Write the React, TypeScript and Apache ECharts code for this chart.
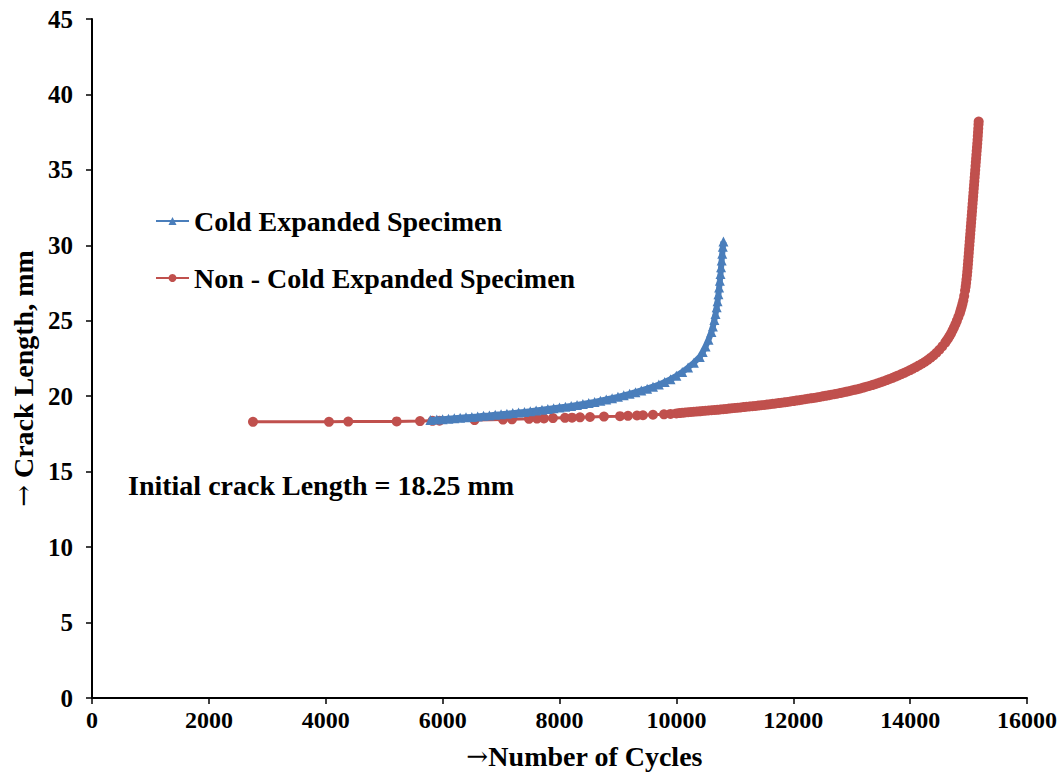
import React, { useEffect, useRef } from "react";
import * as echarts from "echarts";

const xTicks = [0, 2000, 4000, 6000, 8000, 10000, 12000, 14000, 16000];
const yTicks = [0, 5, 10, 15, 20, 25, 30, 35, 40, 45];

const coldCycles = [
  5790, 5900, 6000, 6100, 6200, 6300, 6400, 6500, 6600, 6700, 6800, 6900, 7000, 7100, 7200, 7300, 7400, 7500,
  7600, 7700, 7800, 7900, 8000, 8100, 8200, 8300, 8400, 8500, 8600, 8700, 8800, 8900, 9000, 9100, 9200, 9300,
  9400, 9500, 9600, 9700, 9800, 9900, 10000, 10100, 10200, 10300, 10400, 10450, 10500, 10550, 10600, 10625,
  10650, 10670, 10690, 10705, 10720, 10732, 10744, 10755, 10765, 10775, 10785, 10795, 10805,
];
const coldLength = [
  18.42, 18.45, 18.48, 18.51, 18.54, 18.57, 18.6, 18.63, 18.66, 18.7, 18.73, 18.77, 18.8, 18.84, 18.88, 18.92,
  18.96, 19.0, 19.05, 19.1, 19.15, 19.2, 19.25, 19.3, 19.36, 19.42, 19.48, 19.55, 19.62, 19.7, 19.78, 19.87,
  19.96, 20.06, 20.16, 20.27, 20.38, 20.5, 20.63, 20.77, 20.95, 21.13, 21.35, 21.6, 21.9, 22.22, 22.6, 22.93,
  23.3, 23.75, 24.25, 24.62, 25.05, 25.45, 25.9, 26.3, 26.75, 27.2, 27.65, 28.1, 28.55, 29.0, 29.45, 29.9, 30.25,
];

const nonCycles = [
  2755, 4055, 4385, 5214, 5613, 5827, 5947, 6546, 7033, 7187, 7478, 7615, 7734, 7888, 8094, 8214, 8351, 8522,
  8761, 9035, 9172, 9326, 9428, 9600, 9788, 9900,
  10000, 10050, 10100, 10150, 10200, 10250, 10300, 10350, 10400, 10450, 10500, 10550, 10600, 10650, 10700,
  10750, 10800, 10850, 10900, 10950, 11000, 11050, 11100, 11150, 11200, 11250, 11300, 11350, 11400, 11450,
  11500, 11550, 11600, 11650, 11700, 11750, 11800, 11850, 11900, 11950, 12000, 12050, 12100, 12150, 12200,
  12250, 12300, 12350, 12400, 12450, 12500, 12550, 12600, 12650, 12700, 12750, 12800, 12850, 12900, 12950,
  13000, 13050, 13100, 13150, 13200, 13250, 13300, 13350, 13400, 13450, 13500, 13550, 13600, 13650, 13700,
  13750, 13800, 13850, 13900, 13950, 14000, 14050, 14100, 14150, 14200, 14250, 14300, 14350, 14400, 14450,
  14500, 14550, 14600, 14625, 14650, 14675, 14700, 14725, 14750, 14775, 14800, 14825, 14850, 14865, 14880,
  14895, 14910, 14925, 14940, 14950, 14958, 14965, 14972, 14978, 14984, 14989, 14994, 14999, 15004, 15009,
  15014, 15019, 15024, 15029, 15034, 15039, 15044, 15049, 15054, 15059, 15064, 15069, 15074, 15079, 15084,
  15089, 15094, 15099, 15104, 15109, 15114, 15119, 15124, 15129, 15134, 15139, 15144, 15149, 15154, 15158,
  15162, 15166, 15170, 15173,
];
const nonLength = [
  18.3, 18.3, 18.32, 18.33, 18.35, 18.37, 18.38, 18.42, 18.45, 18.47, 18.5, 18.52, 18.53, 18.55, 18.57, 18.58,
  18.6, 18.62, 18.65, 18.68, 18.7, 18.72, 18.74, 18.77, 18.8, 18.83,
  18.86, 18.88, 18.9, 18.92, 18.94, 18.955, 18.97, 18.985, 19.0, 19.02, 19.04, 19.055, 19.07, 19.085, 19.1,
  19.12, 19.14, 19.16, 19.18, 19.2, 19.22, 19.24, 19.26, 19.28, 19.3, 19.32, 19.34, 19.36, 19.38, 19.4,
  19.42, 19.445, 19.47, 19.495, 19.52, 19.545, 19.57, 19.595, 19.62, 19.65, 19.68, 19.71, 19.74, 19.77, 19.8,
  19.83, 19.86, 19.89, 19.92, 19.955, 19.99, 20.025, 20.06, 20.095, 20.13, 20.17, 20.21, 20.25, 20.29, 20.335,
  20.38, 20.425, 20.47, 20.52, 20.57, 20.625, 20.68, 20.74, 20.8, 20.865, 20.93, 21.0, 21.07, 21.145, 21.22,
  21.3, 21.38, 21.465, 21.55, 21.64, 21.73, 21.83, 21.93, 22.04, 22.15, 22.27, 22.4, 22.55, 22.7, 22.88,
  23.08, 23.3, 23.55, 23.69, 23.83, 23.99, 24.15, 24.35, 24.55, 24.77, 25.0, 25.25, 25.5, 25.7, 25.9,
  26.12, 26.35, 26.65, 27.0, 27.25, 27.5, 27.75, 28.0, 28.25, 28.5, 28.75, 29.0, 29.25, 29.5, 29.75,
  30.0, 30.25, 30.5, 30.75, 31.0, 31.25, 31.5, 31.75, 32.0, 32.25, 32.5, 32.75, 33.0, 33.25, 33.5,
  33.75, 34.0, 34.25, 34.5, 34.75, 35.0, 35.25, 35.5, 35.75, 36.0, 36.25, 36.5, 36.75, 37.0, 37.25,
  37.5, 37.75, 38.0, 38.2,
];

const FONT = "'Liberation Serif', 'Times New Roman', serif";
const ARROW_FONT = "'DejaVu Serif', serif";

export default function App() {
  const ref = useRef<HTMLDivElement>(null);
  useEffect(() => {
    if (!ref.current) return;
    const chart = echarts.init(ref.current, null, { renderer: "svg" });
    const coldData = coldCycles.map((c, i) => [c, coldLength[i]]);
    const nonData = nonCycles.map((c, i) => [c, nonLength[i]]);
    const arrowRich = {
      arrow: { fontFamily: ARROW_FONT, fontWeight: "normal", fontSize: 26, color: "#000" },
    };
    chart.setOption({
      animation: false,
      backgroundColor: "#ffffff",
      grid: { left: 92, right: 34, top: 19, bottom: 76, containLabel: false },
      legend: {
        orient: "vertical",
        left: 150,
        top: 202,
        itemWidth: 33,
        itemHeight: 10,
        itemGap: 29,
        textStyle: { fontFamily: FONT, fontWeight: "bold", fontSize: 28, color: "#000" },
        data: ["Cold Expanded Specimen", "Non - Cold Expanded Specimen"],
      },
      xAxis: {
        type: "value",
        min: xTicks[0],
        max: xTicks[xTicks.length - 1],
        interval: 2000,
        name: "{arrow|→}Number of Cycles",
        nameLocation: "middle",
        nameGap: 44,
        nameTextStyle: {
          fontFamily: FONT,
          fontWeight: "bold",
          fontSize: 28,
          color: "#000",
          padding: [0, 0, 0, 50],
          rich: arrowRich,
        },
        splitLine: { show: false },
        axisLine: { lineStyle: { color: "#000", width: 2 } },
        axisTick: { show: true, length: 6, lineStyle: { color: "#000", width: 1.5 } },
        axisLabel: {
          fontFamily: FONT,
          fontWeight: "bold",
          fontSize: 24,
          color: "#000",
          margin: 10,
          formatter: (v: number) => String(v),
        },
      },
      yAxis: {
        type: "value",
        min: yTicks[0],
        max: yTicks[yTicks.length - 1],
        interval: 5,
        name: "{arrow|→} Crack Length, mm",
        nameLocation: "middle",
        nameGap: 51,
        nameTextStyle: {
          fontFamily: FONT,
          fontWeight: "bold",
          fontSize: 28,
          color: "#000",
          padding: [0, 40, 0, 0],
          rich: arrowRich,
        },
        splitLine: { show: false },
        axisLine: { show: true, lineStyle: { color: "#000", width: 2 } },
        axisTick: { show: true, length: 6, lineStyle: { color: "#000", width: 1.5 } },
        axisLabel: {
          fontFamily: FONT,
          fontWeight: "bold",
          fontSize: 25,
          color: "#000",
          margin: 19,
          formatter: (v: number) => String(v),
        },
      },
      graphic: [
        {
          type: "text",
          left: 128,
          top: 471,
          style: {
            text: "Initial crack Length = 18.25 mm",
            fontFamily: FONT,
            fontWeight: "bold",
            fontSize: 28,
            fill: "#000",
          },
        },
      ],
      series: [
        {
          name: "Non - Cold Expanded Specimen",
          type: "line",
          data: nonData,
          z: 2,
          symbol: "circle",
          symbolSize: 10,
          itemStyle: { color: "#C0504D" },
          lineStyle: { color: "#C0504D", width: 3 },
        },
        {
          name: "Cold Expanded Specimen",
          type: "line",
          data: coldData,
          z: 3,
          symbol: "triangle",
          symbolSize: 10,
          itemStyle: { color: "#4A7EBB" },
          lineStyle: { color: "#4A7EBB", width: 6 },
        },
      ],
    });
    return () => chart.dispose();
  }, []);
  return <div ref={ref} style={{ width: 1061, height: 775, position: "absolute", left: 0, top: 0 }} />;
}
